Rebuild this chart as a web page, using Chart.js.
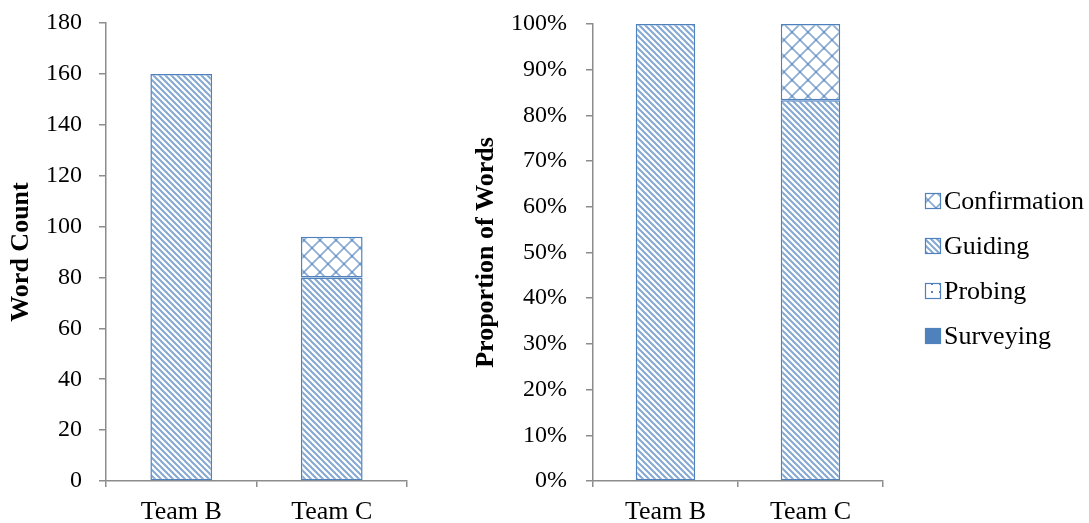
<!DOCTYPE html>
<html>
<head>
<meta charset="utf-8">
<script src="https://cdn.jsdelivr.net/npm/chart.js@4.4.1/dist/chart.umd.min.js"></script>
<style>
  html, body { margin: 0; padding: 0; background: #ffffff; }
  body { width: 1089px; height: 523px; position: relative; overflow: hidden; }
  #countBox { position: absolute; left: 0; top: 0; width: 430px; height: 523px; }
  #shareBox { position: absolute; left: 440px; top: 0; width: 649px; height: 523px; }
</style>
</head>
<body>
<div id="countBox"><canvas id="countChart" width="430" height="523"></canvas></div>
<div id="shareBox"><canvas id="shareChart" width="649" height="523"></canvas></div>
<script>
// Categories and series (stack order: bottom first)
const teams = ['Team B', 'Team C'];
const seriesNames = ['Surveying', 'Probing', 'Guiding', 'Confirmation'];

// Word counts
const surveyingWords = [0, 0];
const probingWords = [0, 0];
const guidingWords = [160, 80];
const confirmationWords = [0, 16];

// Proportion of words (%)
const surveyingShare = [0, 0];
const probingShare = [0, 0];
const guidingShare = [100, 83.3];
const confirmationShare = [0, 16.7];

// Axis tick values
const countTickValues = [0, 20, 40, 60, 80, 100, 120, 140, 160, 180];
const shareTickValues = [0, 10, 20, 30, 40, 50, 60, 70, 80, 90, 100];

const BLUE = '#4F81BD';
const AXIS_GREY = '#8C8C8C';
const SERIF = "'Liberation Serif', 'Times New Roman', serif";

// ---- fill patterns ----
function makeTile(size, paint) {
  const c = document.createElement('canvas');
  c.width = size; c.height = size;
  const g = c.getContext('2d');
  g.fillStyle = '#ffffff';
  g.fillRect(0, 0, size, size);
  paint(g, size);
  return document.createElement('canvas').getContext('2d').createPattern(c, 'repeat');
}
const stripePattern = makeTile(6, (g, s) => {
  g.strokeStyle = 'rgba(79,129,189,0.7)';
  g.lineWidth = 2;
  for (const k of [-s, 0, s]) {
    g.beginPath(); g.moveTo(k - 1, -1); g.lineTo(k + s + 1, s + 1); g.stroke();
  }
});
const latticePattern = makeTile(16, (g, s) => {
  g.strokeStyle = 'rgba(79,129,189,0.65)';
  g.lineWidth = 1.8;
  for (const k of [-s, 0, s]) {
    g.beginPath(); g.moveTo(k - 1, -1); g.lineTo(k + s + 1, s + 1); g.stroke();
    g.beginPath(); g.moveTo(k - 1, s + 1); g.lineTo(k + s + 1, -1); g.stroke();
  }
});
const dotPattern = makeTile(8, (g, s) => {
  g.fillStyle = BLUE;
  g.fillRect(s / 2 - 1, s / 2 - 1, 2, 2);
});
const seriesFills = [BLUE, dotPattern, stripePattern, latticePattern];

function buildDatasets(valueLists) {
  return seriesNames.map((name, i) => ({
    label: name,
    data: valueLists[i],
    backgroundColor: seriesFills[i],
    borderColor: BLUE,
    borderWidth: 1.5,
    borderSkipped: false,
    inflateAmount: 0,
    barPercentage: 0.41,
    categoryPercentage: 1.0
  }));
}

// Series key drawn at the right of the proportion chart, top item = top of stack
const seriesKey = {
  id: 'seriesKey',
  afterDraw(chart, args, opts) {
    if (!opts.display) return;
    const ctx = chart.ctx;
    const sets = chart.data.datasets.slice().reverse();
    const x = chart.chartArea.right + opts.offsetX;
    ctx.save();
    ctx.font = opts.fontSize + 'px ' + SERIF;
    ctx.textBaseline = 'middle';
    ctx.textAlign = 'left';
    sets.forEach((ds, k) => {
      const cy = opts.firstRow + k * opts.rowGap;
      const b = opts.box;
      ctx.fillStyle = ds.backgroundColor;
      ctx.fillRect(x, cy - b / 2, b, b);
      ctx.strokeStyle = ds.borderColor;
      ctx.lineWidth = 1.2;
      ctx.strokeRect(x + 0.5, cy - b / 2 + 0.5, b - 1, b - 1);
      ctx.fillStyle = '#000000';
      ctx.fillText(ds.label, x + b + 3, cy + 1);
    });
    ctx.restore();
  }
};

function makeChart(canvasId, valueLists, cfg) {
  return new Chart(document.getElementById(canvasId), {
    type: 'bar',
    data: { labels: teams, datasets: buildDatasets(valueLists) },
    plugins: [seriesKey],
    options: {
      responsive: false,
      animation: false,
      devicePixelRatio: 1,
      layout: { padding: { top: cfg.padTop, right: cfg.padRight, left: 0, bottom: 0 } },
      plugins: {
        legend: { display: false },
        tooltip: { enabled: false },
        seriesKey: cfg.key
      },
      scales: {
        x: {
          stacked: true,
          grid: { display: true, drawOnChartArea: false, drawTicks: true, tickLength: 6, color: AXIS_GREY, lineWidth: 1.5, offset: true },
          border: { display: true, color: AXIS_GREY, width: 1.5 },
          ticks: { color: '#000', font: { family: SERIF, size: 26 }, padding: 10, maxRotation: 0 },
          afterFit: s => { s.height = 42; s.paddingLeft = 0; s.paddingRight = 0; }
        },
        y: {
          stacked: true,
          min: 0,
          max: cfg.max,
          afterBuildTicks: s => { s.ticks = cfg.tickValues.map(v => ({ value: v })); },
          grid: { display: true, drawOnChartArea: false, drawTicks: true, tickLength: 7, color: AXIS_GREY, lineWidth: 1.5 },
          border: { display: true, color: AXIS_GREY, width: 1.5 },
          ticks: { color: '#000', font: { family: SERIF, size: 24 }, padding: cfg.tickPad, callback: cfg.fmt },
          title: { display: true, text: cfg.title, color: '#000', font: { family: SERIF, size: 26, weight: 'bold' }, padding: { top: cfg.titlePad, bottom: 0 } },
          afterFit: s => { s.width = cfg.axisWidth; s.paddingTop = 0; s.paddingBottom = 0; }
        }
      }
    }
  });
}

makeChart('countChart',
  [surveyingWords, probingWords, guidingWords, confirmationWords],
  { max: 180, tickValues: countTickValues, fmt: v => String(v), title: 'Word Count',
    padTop: 23, padRight: 23, axisWidth: 106, titlePad: 6, tickPad: 17,
    key: { display: false } });

makeChart('shareChart',
  [surveyingShare, probingShare, guidingShare, confirmationShare],
  { max: 100, tickValues: shareTickValues, fmt: v => v + '%', title: 'Proportion of Words',
    padTop: 24, padRight: 206, axisWidth: 153, titlePad: 31, tickPad: 19,
    key: { display: true, offsetX: 42, firstRow: 201, rowGap: 45, box: 16, fontSize: 26 } });
</script>
</body>
</html>
